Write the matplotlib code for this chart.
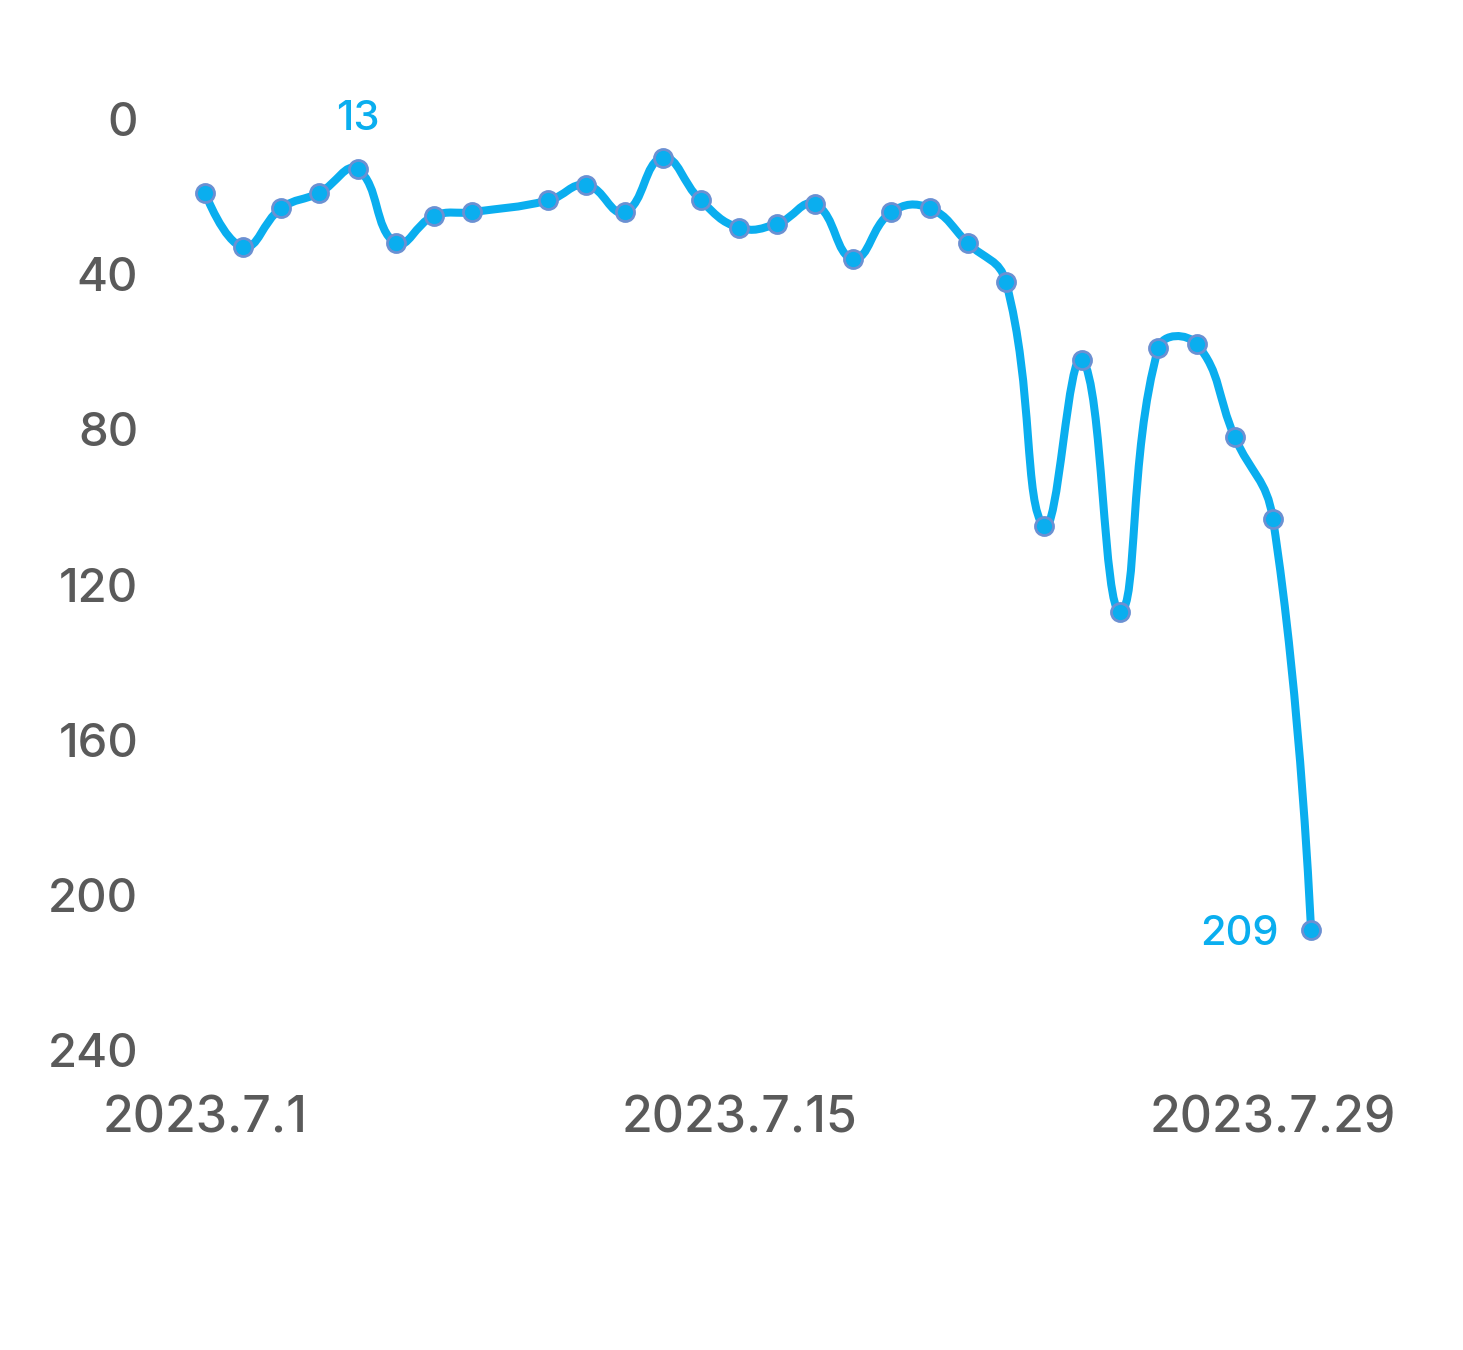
import numpy as np
import matplotlib.pyplot as plt
from matplotlib.path import Path
from matplotlib.patches import PathPatch

plt.rcParams['font.family'] = ['Inter', 'DejaVu Sans']
plt.rcParams['font.weight'] = 'medium'

# July 2023, day 9 has no value
days = [1, 2, 3, 4, 5, 6, 7, 8, 10, 11, 12, 13, 14, 15, 16, 17, 18, 19, 20,
        21, 22, 23, 24, 25, 26, 27, 28, 29, 30]
values = [19, 33, 23, 19, 13, 32, 25, 24, 21, 17, 24, 10, 21, 28, 27, 22, 36,
          24, 23, 32, 42, 105, 62, 127, 59, 58, 82, 103, 209]
tick_days = [1, 15, 29]
tick_labels = ['2023.7.1', '2023.7.15', '2023.7.29']
y_ticks = [0, 40, 80, 120, 160, 200, 240]
labelled = {5: 13, 30: 209}

line_col = '#0aaeef'
text_col = '#5a5a5a'

fig = plt.figure(figsize=(14.63, 13.5), dpi=100)
ax = fig.add_axes([205/1463, 1 - 1050/1350, (1311 - 205)/1463, (1050 - 119)/1350])

# smooth line (bezier through the points, like echarts smooth)
sx, sy = 38.07, 3.875   # rough pixel scale, used for control point spacing
px = np.array(days, float)
py = np.array(values, float)
n = len(px)
verts = [(px[0], py[0])]
codes = [Path.MOVETO]
smooth = 0.45
def ctrl(i):
    if i == 0 or i == n - 1:
        return (px[i], py[i]), (px[i], py[i])
    vx = (px[i+1] - px[i-1])
    vy = (py[i+1] - py[i-1])
    d0 = np.hypot((px[i] - px[i-1])*sx, (py[i] - py[i-1])*sy)
    d1 = np.hypot((px[i+1] - px[i])*sx, (py[i+1] - py[i])*sy)
    r0 = d0 / (d0 + d1)
    r1 = d1 / (d0 + d1)
    before = (px[i] - vx*smooth*r0, py[i] - vy*smooth*r0)
    after = (px[i] + vx*smooth*r1, py[i] + vy*smooth*r1)
    return before, after
for i in range(n - 1):
    _, a = ctrl(i)
    b, _ = ctrl(i + 1)
    verts += [a, b, (px[i+1], py[i+1])]
    codes += [Path.CURVE4] * 3
ax.add_patch(PathPatch(Path(verts, codes), fill=False, edgecolor=line_col,
                       lw=5.8, capstyle='round', joinstyle='round', clip_on=False))

ax.plot(days, values, 'o', ls='none', ms=13, mfc=line_col, mec='#6b90d2',
        mew=2, clip_on=False, zorder=3)

for d, v in labelled.items():
    if d == 30:
        ax.text(d - 0.85, v + 1.2, str(v), color=line_col, fontsize=30,
                ha='right', va='center')
    else:
        ax.text(d, v - 8, str(v), color=line_col, fontsize=30,
                ha='center', va='bottom')

ax.set_xlim(1, 30)
ax.set_ylim(240, 0)
ax.set_yticks(y_ticks)
ax.set_xticks(tick_days)
ax.set_xticklabels(tick_labels)
ax.tick_params(axis='y', length=0, pad=48, labelsize=34, labelcolor=text_col)
ax.tick_params(axis='x', length=0, pad=33, labelsize=36, labelcolor=text_col)
for s in ax.spines.values():
    s.set_visible(False)

plt.savefig('out.png', dpi=100)
